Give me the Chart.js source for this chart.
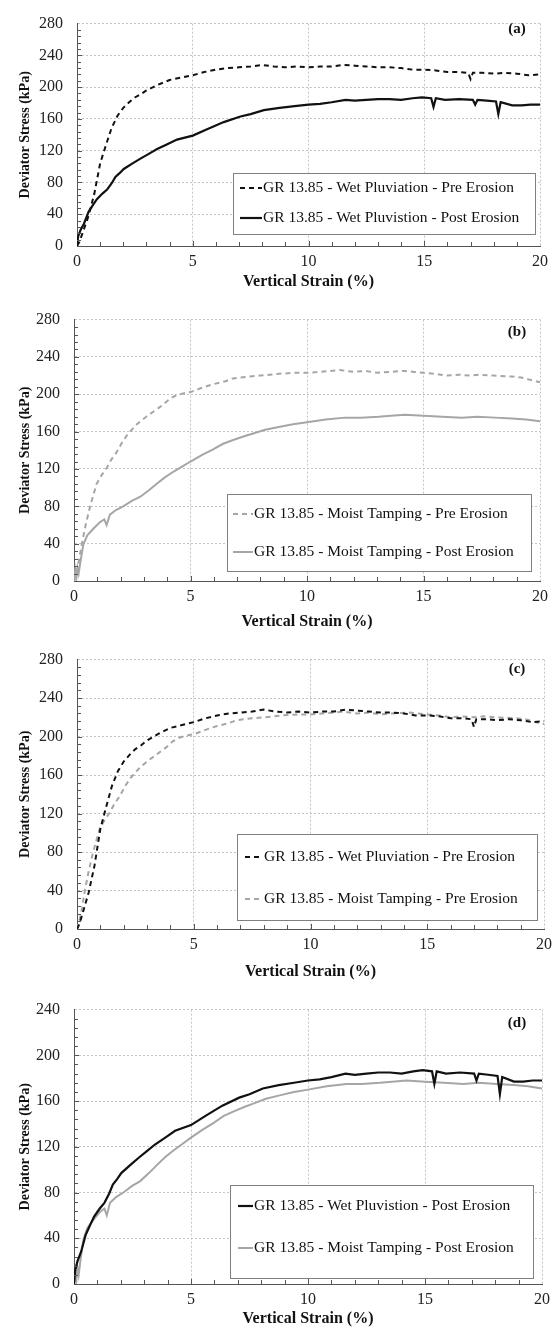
<!DOCTYPE html>
<html>
<head>
<meta charset="utf-8">
<script src="https://cdn.jsdelivr.net/npm/chart.js@4.4.1/dist/chart.umd.min.js"></script>
<style>
html,body{margin:0;padding:0;background:#fff;}
#wrap{position:relative;width:558px;height:1333px;overflow:hidden;}
canvas{position:absolute;left:0;}
</style>
</head>
<body>
<div id="wrap">
<canvas id="pa" width="558" height="296" style="top:0px"></canvas>
<canvas id="pb" width="558" height="340" style="top:296px"></canvas>
<canvas id="pc" width="558" height="350" style="top:636px"></canvas>
<canvas id="pd" width="558" height="347" style="top:986px"></canvas>
</div>
<script>
// DATA (strain in %, stress in kPa)

const strainWPPre = [0,0.1,0.25,0.5,0.75,1,1.25,1.5,1.75,2,2.25,2.5,2.75,3,3.5,4,4.5,5,5.5,6,6.5,7,7.5,8,8.5,9,9.5,10,10.5,11,11.5,12,12.5,13,13.5,14,14.5,15,15.5,16,16.5,16.9,17,17.1,17.5,18,18.5,19,19.5,20]
const stressWPPre = [0,5,17,38,66,104,127,149,164,174,181,187,191,196,203,209,212,215,219,222,224,225,226,228,226,225,226,225,226,226,228,227,226,225,225,224,222,222,221,219,219,218,210,218,218,217,218,217,215,216]

const strainMTPre = [0,0.1,0.2,0.33,0.5,0.69,0.97,1.2,1.4,1.6,1.83,2.1,2.33,2.7,3.1,3.5,3.83,4.1,4.4,4.7,5.07,5.5,6,6.5,6.83,7.5,8,8.8,9.5,10,10.5,11,11.4,12,12.5,13,13.5,14.2,14.6,15,15.5,16,16.5,17,17.4,18,18.8,19.2,19.5,19.8,20]
const stressMTPre = [0,8,20,39,60,80,104,114,121,130,138,150,158,168,176,183,189,195,199,201,203,207,211,214,217,219,220,222,223,223,224,225,226,224,225,223,224,225,224,223,222,220,221,220,221,220,219,218,216,214,213]

const strainWPPost = [0,0.05,0.15,0.3,0.5,0.7,0.86,1.1,1.3,1.5,1.66,1.85,2.02,2.4,2.74,3.1,3.46,3.9,4.32,5,5.62,6.34,7.06,7.5,8.07,8.75,9.4,10,10.5,11,11.6,12,12.5,13,13.5,14,14.5,14.9,15.3,15.4,15.5,15.9,16.5,17.1,17.2,17.3,17.7,18.1,18.2,18.3,18.8,19.2,19.6,20]
const stressWPPost = [0,12,20,28,43,52,59,66,71,79,87,92,97,104,110,116,122,128,134,139,147,156,163,166,171,174,176,178,179,181,184,183,184,185,185,184,186,187,186,175,186,184,185,184,178,184,183,182,166,181,177,177,178,178]

const strainMTPost = [0,0.05,0.1,0.15,0.2,0.26,0.4,0.57,0.83,1.11,1.3,1.4,1.54,1.8,2.11,2.5,2.83,3.2,3.54,3.9,4.26,4.6,5,5.5,5.97,6.4,6.83,7.3,7.69,8.2,8.79,9.4,10,10.8,11.64,12.3,13.07,13.6,14.2,15,15.8,16.64,17.3,18.07,18.8,19.4,20]
const stressMTPost = [0,12,3,14,8,18,39,49,56,63,66,60,71,76,80,86,90,97,104,111,117,122,128,135,141,147,151,155,158,162,165,168,170,173,175,175,176,177,178,177,176,175,176,175,174,173,171]

const labelWPPre = 'GR 13.85 - Wet Pluviation - Pre Erosion'
const labelWPPost = 'GR 13.85 - Wet Pluvistion - Post Erosion'
const labelMTPre = 'GR 13.85 - Moist Tamping - Pre Erosion'
const labelMTPost = 'GR 13.85 - Moist Tamping - Post Erosion'

const xMax = 20
const xStep = 5
const yMaxes = [280, 280, 280, 240]
const yStep = 40
const panelTags = ['(a)', '(b)', '(c)', '(d)']

const SERIF = '"Liberation Serif", "Times New Roman", serif'

function pts(xs, ys){
  return xs.map((x, i) => ({x: x, y: ys[i]}))
}

function series(kind){
  const black = '#111'
  const grey = '#a6a6a6'
  if(kind == 'wpPre') return {label: labelWPPre, data: pts(strainWPPre, stressWPPre), borderColor: black, borderWidth: 2, borderDash: [5,4]}
  if(kind == 'wpPost') return {label: labelWPPost, data: pts(strainWPPost, stressWPPost), borderColor: black, borderWidth: 2.2, borderDash: []}
  if(kind == 'mtPre') return {label: labelMTPre, data: pts(strainMTPre, stressMTPre), borderColor: grey, borderWidth: 2, borderDash: [5,4]}
  return {label: labelMTPost, data: pts(strainMTPost, stressMTPost), borderColor: grey, borderWidth: 2, borderDash: []}
}

// minor ticks, boxed legend and panel tag
const decor = {
  id: 'decor',
  afterDatasetsDraw(chart, args, o){
    const ctx = chart.ctx
    const xs = chart.scales.x, ys = chart.scales.y
    const a = chart.chartArea
    ctx.save()
    ctx.strokeStyle = '#555'
    ctx.lineWidth = 1
    ctx.beginPath()
    for(let v = 1; v < xMax; v++){
      const px = Math.round(xs.getPixelForValue(v)) + 0.5
      ctx.moveTo(px, a.bottom)
      ctx.lineTo(px, a.bottom - (v % xStep == 0 ? 5 : 4))
    }
    for(let v = 8; v < ys.max; v += 8){
      const py = Math.round(ys.getPixelForValue(v)) + 0.5
      ctx.moveTo(a.left, py)
      ctx.lineTo(a.left + (v % yStep == 0 ? 5 : 4), py)
    }
    ctx.stroke()

    // legend
    const b = o.box
    ctx.fillStyle = '#fff'
    ctx.fillRect(b.x, b.y, b.w, b.h)
    ctx.strokeStyle = '#808080'
    ctx.strokeRect(b.x + 0.5, b.y + 0.5, b.w, b.h)
    ctx.font = '15.5px ' + SERIF
    ctx.textBaseline = 'middle'
    chart.data.datasets.forEach((ds, i) => {
      const y = b.rows[i]
      ctx.strokeStyle = ds.borderColor
      ctx.lineWidth = ds.borderWidth
      ctx.setLineDash(ds.borderDash)
      ctx.beginPath()
      ctx.moveTo(b.l0, y)
      ctx.lineTo(b.l1, y)
      ctx.stroke()
      ctx.setLineDash([])
      ctx.fillStyle = '#111'
      ctx.fillText(ds.label, b.l1 + 1, y)
    })

    ctx.font = 'bold 15px ' + SERIF
    ctx.textAlign = 'center'
    ctx.fillStyle = '#111'
    ctx.fillText(o.tag, o.tagX, o.tagY)
    ctx.restore()
  }
}

const panels = [
  {id: 'pa', kinds: ['wpPre', 'wpPost'], top: 12, left: 77, right: 18, xh: 50,
    box: {x: 233, y: 173, w: 302, h: 61, rows: [188, 218], l0: 240, l1: 262}, tagY: 29},
  {id: 'pb', kinds: ['mtPre', 'mtPost'], top: 15, left: 74, right: 18, xh: 55,
    box: {x: 227, y: 198, w: 304, h: 77, rows: [218, 256], l0: 233, l1: 253}, tagY: 36},
  {id: 'pc', kinds: ['wpPre', 'mtPre'], top: 13, left: 77, right: 11, xh: 57,
    box: {x: 237, y: 198, w: 300, h: 86, rows: [221, 263], l0: 245, l1: 263}, tagY: 33},
  {id: 'pd', kinds: ['wpPost', 'mtPost'], top: 13, left: 74, right: 16, xh: 49,
    box: {x: 230, y: 199, w: 303, h: 93, rows: [220, 262], l0: 238, l1: 253}, tagY: 37}
]

panels.forEach((p, k) => {
  new Chart(document.getElementById(p.id), {
    type: 'scatter',
    data: {datasets: p.kinds.map(series)},
    options: {
      responsive: false,
      animation: false,
      showLine: true,
      elements: {point: {radius: 0}, line: {tension: 0}},
      layout: {padding: {top: p.top, right: p.right, left: 0, bottom: 0}},
      plugins: {
        legend: {display: false},
        tooltip: {enabled: false},
        decor: {box: p.box, tag: panelTags[k], tagX: 517, tagY: p.tagY}
      },
      scales: {
        x: {
          type: 'linear', min: 0, max: xMax,
          afterFit: s => { s.height = p.xh },
          ticks: {stepSize: xStep, padding: 6, color: '#222', font: {family: SERIF, size: 16}},
          grid: {color: '#c4c4c4', lineWidth: 1, drawTicks: false},
          border: {display: true, color: '#555', width: 1, dash: [2, 2]},
          title: {display: true, text: 'Vertical Strain (%)', color: '#111', font: {family: SERIF, size: 16, weight: 'bold'}, padding: {top: 0, bottom: 5}}
        },
        y: {
          min: 0, max: yMaxes[k],
          afterFit: s => { s.width = p.left },
          ticks: {stepSize: yStep, padding: 14, color: '#222', font: {family: SERIF, size: 16}},
          grid: {color: '#c4c4c4', lineWidth: 1, drawTicks: false},
          border: {display: true, color: '#555', width: 1, dash: [2, 2]},
          title: {display: true, text: 'Deviator Stress (kPa)', color: '#111', font: {family: SERIF, size: 14, weight: 'bold'}, padding: {top: 17, bottom: 0}}
        }
      }
    },
    plugins: [decor]
  })
})
</script>
</body>
</html>
